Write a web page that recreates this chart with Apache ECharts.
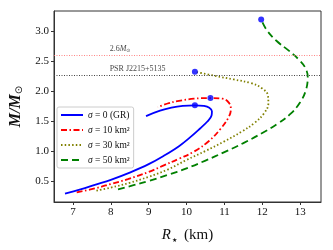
<!DOCTYPE html>
<html><head><meta charset="utf-8">
<script src="https://cdn.jsdelivr.net/npm/echarts@6/dist/echarts.min.js"></script>
<style>html,body{margin:0;padding:0;background:#fff}#c{width:333px;height:250px}</style>
</head><body><div id="c"></div>
<script>
const seriesNames = ['σ=0 (GR)', 'σ=10 km²', 'σ=30 km²', 'σ=50 km²'];
const R0 = [6.79, 7.2, 7.6, 8.0, 8.5, 9.0, 9.4, 9.8, 10.1, 10.35, 10.55, 10.66, 10.67, 10.6, 10.45, 10.22, 9.9, 9.6, 9.3, 8.93];
const M0 = [0.30, 0.37, 0.45, 0.53, 0.65, 0.79, 0.93, 1.09, 1.24, 1.38, 1.50, 1.60, 1.67, 1.73, 1.76, 1.77, 1.76, 1.73, 1.68, 1.59];
const R10 = [7.1, 7.6, 8.0, 8.45, 9.0, 9.4, 9.8, 10.2, 10.6, 10.9, 11.1, 11.17, 11.12, 10.95, 10.63, 10.2, 9.76, 9.5, 9.24];
const M10 = [0.32, 0.39, 0.46, 0.54, 0.66, 0.77, 0.88, 1.0, 1.18, 1.38, 1.56, 1.70, 1.81, 1.88, 1.89, 1.88, 1.84, 1.80, 1.74];
const R30 = [7.62, 8.0, 8.5, 9.0, 9.5, 10.0, 10.5, 11.0, 11.45, 11.8, 12.05, 12.16, 12.15, 12.0, 11.7, 11.25, 10.75, 10.22];
const M30 = [0.35, 0.40, 0.48, 0.58, 0.70, 0.86, 1.01, 1.17, 1.33, 1.48, 1.64, 1.80, 1.93, 2.05, 2.14, 2.20, 2.26, 2.33];
const R50 = [8.19, 8.6, 9.0, 9.5, 10.0, 10.5, 11.0, 11.5, 12.0, 12.4, 12.75, 13.0, 13.15, 13.2, 13.13, 12.95, 12.7, 12.38, 12.12, 11.97];
const M50 = [0.37, 0.44, 0.51, 0.61, 0.72, 0.85, 0.99, 1.14, 1.31, 1.46, 1.63, 1.82, 2.02, 2.24, 2.40, 2.54, 2.68, 2.84, 3.02, 3.20];
const maxR = [10.22, 10.63, 10.22, 11.97];
const maxM = [1.77, 1.89, 2.33, 3.20];
const refMasses = [2.6, 2.27];
const refLabels = ['2.6M⊙', 'PSR J2215+5135'];
const xTicks = [7, 8, 9, 10, 11, 12, 13];
const yTicks = [0.5, 1.0, 1.5, 2.0, 2.5, 3.0];

const F = 'Liberation Serif, Times New Roman, serif';
const zip = (a, b) => a.map((v, i) => [v, b[i]]);
const curves = [[R0, M0], [R10, M10], [R30, M30], [R50, M50]];
const colors = ['#0000ff', '#ff0000', '#808000', '#008000'];
const dashes = ['solid', [6, 2.5, 1.5, 2.5], [1.5, 2.2], [7, 4]];

const chart = echarts.init(document.getElementById('c'), null, {renderer: 'canvas'});
const series = curves.map((c, i) => ({
  name: seriesNames[i], type: 'line', smooth: 0.4, symbol: 'none', showSymbol: false,
  data: zip(c[0], c[1]), z: 3,
  lineStyle: {color: colors[i], width: 1.8, type: dashes[i]}, itemStyle: {color: colors[i]}
}));
series.push({
  type: 'scatter', data: zip(maxR, maxM), symbolSize: 6, itemStyle: {color: '#0000ff'}, z: 5, silent: true
});
series.push({
  type: 'line', data: [], silent: true,
  markLine: {
    silent: true, symbol: 'none', label: {show: false},
    data: [
      {yAxis: refMasses[0], lineStyle: {color: '#ff6666', type: [1, 1.5], width: 1, opacity: 0.8}},
      {yAxis: refMasses[1], lineStyle: {color: '#444', type: [1, 1.5], width: 1}}
    ]
  }
});
series.push({
  type: 'scatter', symbolSize: 0, silent: true,
  data: refMasses.map((m, i) => ({value: [7.97, m], name: refLabels[i]})),
  label: {
    show: true, position: 'insideBottomLeft', distance: 0, offset: [0, -2],
    fontFamily: F, fontSize: 8, color: '#111',
    formatter: p => p.name === '2.6M⊙' ? '2.6{i|M}{s|⊙}' : p.name,
    rich: {i: {fontStyle: 'italic', fontFamily: F, fontSize: 8, color: '#111'},
           s: {fontFamily: 'DejaVu Sans', fontSize: 5, verticalAlign: 'bottom', color: '#111', padding: [4, 0, 0, 0]}}
  }
});

chart.setOption({
  animation: false,
  grid: {left: 52, right: 12, top: 11, bottom: 48, show: true, borderColor: '#333', borderWidth: 1, containLabel: false},
  xAxis: {
    type: 'value', min: 6.5, max: 13.55,
    name: '{i|R}{s|★} (km)', nameLocation: 'middle', nameGap: 26,
    nameTextStyle: {fontFamily: F, fontSize: 15, color: '#111',
      rich: {i: {fontStyle: 'italic', fontFamily: F, fontSize: 15, color: '#111'},
             s: {fontFamily: 'DejaVu Sans', fontSize: 6, color: '#111', verticalAlign: 'bottom', padding: [8, 3, 0, 1]}}},
    axisLine: {show: true, lineStyle: {color: '#333'}},
    axisTick: {show: true, length: 3, customValues: xTicks, lineStyle: {color: '#333'}},
    axisLabel: {customValues: xTicks, fontFamily: F, fontSize: 11, color: '#111', margin: 5},
    splitLine: {show: false}
  },
  yAxis: {
    type: 'value', min: 0.16, max: 3.34,
    name: '{i|M/M}{s|⊙}', nameLocation: 'middle', nameGap: 30, nameRotate: 90,
    nameTextStyle: {fontFamily: F, fontSize: 16, color: '#111',
      rich: {i: {fontStyle: 'italic', fontWeight: 'bold', fontFamily: F, fontSize: 16, color: '#111'},
             s: {fontFamily: 'DejaVu Sans', fontSize: 10, color: '#111', verticalAlign: 'bottom', padding: [6, 0, 0, 0]}}},
    axisLine: {show: true, lineStyle: {color: '#333'}},
    axisTick: {show: true, length: 3, customValues: yTicks, lineStyle: {color: '#333'}},
    axisLabel: {customValues: yTicks, fontFamily: F, fontSize: 11, color: '#111', margin: 5,
      formatter: v => Number(v).toFixed(1)},
    splitLine: {show: false}
  },
  legend: {
    data: seriesNames, orient: 'vertical', left: 57, top: 107,
    itemWidth: 22, itemHeight: 8, itemGap: 5,
    itemStyle: {opacity: 0},
    backgroundColor: '#fff', borderColor: '#ccc', borderWidth: 1, borderRadius: 2,
    padding: [3, 4, 3, 3],
    textStyle: {fontFamily: F, fontSize: 9.5, color: '#111',
      rich: {i: {fontStyle: 'italic', fontFamily: F, fontSize: 9.5, color: '#111'}}},
    formatter: n => '{i|σ}' + n.slice(1).replace('=', ' = ')
  },
  series
});
</script></body></html>
